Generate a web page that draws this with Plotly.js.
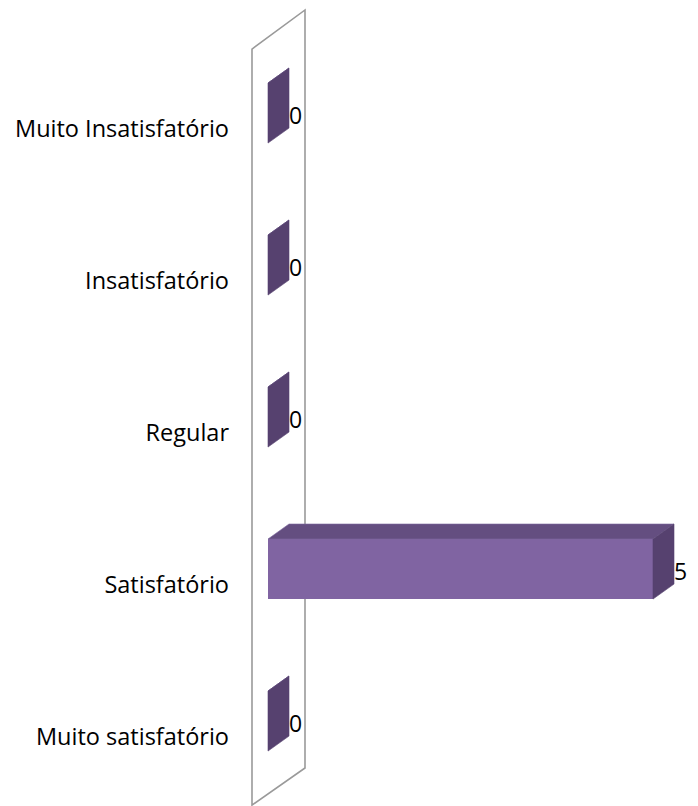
<!DOCTYPE html>
<html>
<head>
<meta charset="utf-8">
<script src="https://cdn.plot.ly/plotly-3.0.1.min.js"></script>
<style>html,body{margin:0;padding:0;background:#fff;}#chart{width:698px;height:806px;}</style>
</head>
<body>
<div id="chart"></div>
<script>
// Data (bottom to top)
var categories = ["Muito satisfatório", "Satisfatório", "Regular", "Insatisfatório", "Muito Insatisfatório"];
var values = [0, 5, 0, 0, 0];
var valueLabels = ["0", "5", "0", "0", "0"];

// Style constants (3D look)
var barW = 0.395;      // bar thickness (category units)
var dX = 0.2727;       // depth offset in value units
var dY = 0.0987;       // depth offset in category units
var labelDrop = 0.105; // category labels sit slightly below bar centre
var frontCol = "#8064A2", topCol = "#644E80", sideCol = "#56416F";

var idx = categories.map(function (c, i) { return i; });
var traces = [];

// front faces
traces.push({
  type: "bar", orientation: "h", x: values, y: idx, width: barW,
  marker: { color: frontCol, line: { width: 0 } }, hoverinfo: "skip"
});

// top and side faces
idx.forEach(function (i) {
  var v = values[i], y0 = i - barW / 2, y1 = i + barW / 2;
  traces.push({
    type: "scatter", mode: "lines", fill: "toself", fillcolor: topCol,
    line: { width: 0.6, color: "#7D68A0" }, hoverinfo: "skip",
    x: [0, v, v + dX, dX, 0], y: [y1, y1, y1 + dY, y1 + dY, y1]
  });
  traces.push({
    type: "scatter", mode: "lines", fill: "toself", fillcolor: sideCol,
    line: { width: 0.6, color: sideCol }, hoverinfo: "skip",
    x: [v, v + dX, v + dX, v, v], y: [y0, y0 + dY, y1 + dY, y1, y0]
  });
});

// value labels
traces.push({
  type: "scatter", mode: "text", hoverinfo: "skip",
  x: values.map(function (v) { return v + dX; }),
  y: idx.map(function (i) { return i - 0.035; }),
  text: valueLabels, textposition: "middle right",
  textfont: { family: "Open Sans, sans-serif", size: 23, color: "#000" }
});

var layout = {
  width: 698, height: 806,
  margin: { l: 240, r: 8, t: 8, b: 0 },
  paper_bgcolor: "#fff", plot_bgcolor: "rgba(0,0,0,0)",
  showlegend: false, hovermode: false,
  font: { family: "Open Sans, sans-serif", size: 23, color: "#000" },
  xaxis: { range: [-0.3636, 5.4805], showgrid: false, zeroline: false, showticklabels: false, ticks: "", showline: false, fixedrange: true },
  yaxis: {
    range: [-0.559, 4.691], showgrid: false, zeroline: false, showline: false, ticks: "",
    tickvals: idx.map(function (i) { return i - labelDrop; }), ticktext: categories,
    ticklabelstandoff: 10, tickfont: { size: 23.5 }, fixedrange: true
  },
  shapes: [{
    type: "path", xref: "x", yref: "y", layer: "below",
    path: "M -0.2078 4.421 L 0.4805 4.678 L 0.4805 -0.309 L -0.2078 -0.553 Z",
    line: { color: "#9A9A9A", width: 1.6 }, fillcolor: "rgba(0,0,0,0)"
  }]
};

Plotly.newPlot("chart", traces, layout, { displayModeBar: false, staticPlot: true });
</script>
</body>
</html>
